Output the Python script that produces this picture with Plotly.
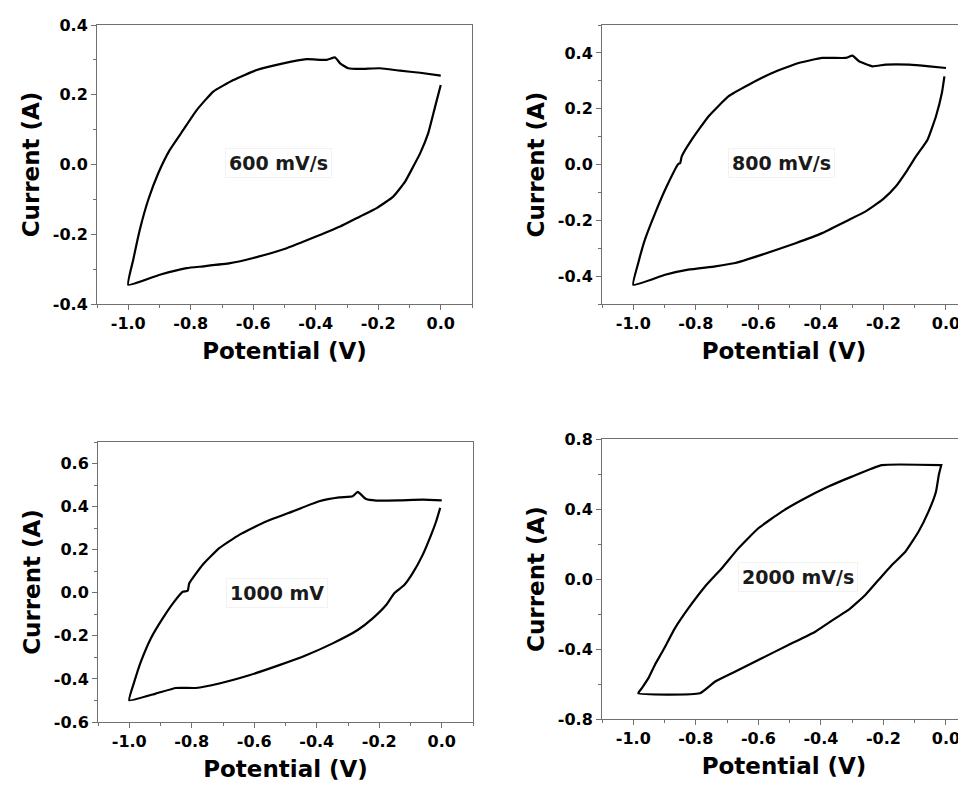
import plotly.graph_objects as go

# ---------------- data ----------------
# Panel 1: 600 mV/s  (cathodic branch from 0 V to -1 V, then anodic branch back)
x_600 = [0.0, -0.018, -0.04, -0.066, -0.088, -0.114, -0.152, -0.205, -0.258, -0.322, -0.397, -0.493,
         -0.600, -0.674, -0.760, -0.813, -0.899, -1.0,
         -0.984, -0.963, -0.936, -0.904, -0.867, -0.824, -0.781, -0.728, -0.664, -0.589, -0.504,
         -0.429, -0.365, -0.338, -0.322, -0.296, -0.258, -0.194, -0.130, -0.066, 0.0]
y_600 = [0.228, 0.166, 0.09, 0.032, -0.006, -0.049, -0.092, -0.125, -0.149, -0.178, -0.206, -0.240,
         -0.268, -0.283, -0.292, -0.297, -0.316, -0.345,
         -0.273, -0.187, -0.101, -0.025, 0.042, 0.099, 0.156, 0.209, 0.242, 0.271, 0.290,
         0.302, 0.300, 0.307, 0.290, 0.276, 0.274, 0.276, 0.269, 0.263, 0.255]

# Panel 2: 800 mV/s
x_800 = [-0.005, -0.013, -0.032, -0.059, -0.096, -0.123, -0.160, -0.203, -0.257, -0.321, -0.396, -0.481,
         -0.588, -0.674, -0.738, -0.824, -0.898, -1.0,
         -0.984, -0.963, -0.930, -0.893, -0.856, -0.850, -0.845, -0.813, -0.759, -0.695, -0.631, -0.556,
         -0.471, -0.396, -0.321, -0.299, -0.278, -0.235, -0.193, -0.118, -0.053, 0.0]
y_800 = [0.316, 0.257, 0.173, 0.089, 0.029, -0.019, -0.078, -0.126, -0.168, -0.204, -0.246, -0.282,
         -0.323, -0.353, -0.365, -0.377, -0.395, -0.431,
         -0.353, -0.270, -0.174, -0.078, 0.002, 0.005, 0.029, 0.089, 0.173, 0.245, 0.286, 0.328,
         0.364, 0.382, 0.382, 0.390, 0.370, 0.352, 0.358, 0.358, 0.352, 0.346]

# Panel 3: 1000 mV
x_1000 = [-0.005, -0.018, -0.034, -0.061, -0.093, -0.120, -0.152, -0.178, -0.221, -0.269, -0.349, -0.434,
          -0.520, -0.616, -0.712, -0.787, -0.851, -0.915, -1.0,
          -0.984, -0.963, -0.931, -0.893, -0.856, -0.829, -0.813, -0.808, -0.765, -0.712, -0.648,
          -0.562, -0.477, -0.392, -0.328, -0.285, -0.269, -0.242, -0.210, -0.136, -0.061, 0.0]
y_1000 = [0.394, 0.331, 0.269, 0.176, 0.091, 0.036, -0.002, -0.057, -0.119, -0.173, -0.235, -0.290,
          -0.336, -0.383, -0.421, -0.442, -0.442, -0.468, -0.499,
          -0.414, -0.321, -0.212, -0.119, -0.041, 0.005, 0.009, 0.044, 0.130, 0.207, 0.269,
          0.331, 0.378, 0.425, 0.443, 0.448, 0.468, 0.435, 0.428, 0.429, 0.432, 0.429]

# Panel 4: 2000 mV/s (clipped at +/-0.65 A)
x_2000 = [-0.015, -0.023, -0.032, -0.056, -0.088, -0.130, -0.173, -0.216, -0.258, -0.312, -0.354,
          -0.418, -0.504, -0.589, -0.675, -0.739, -0.787, -0.984,
          -0.973, -0.952, -0.931, -0.904, -0.867, -0.824, -0.771, -0.717, -0.664, -0.600, -0.525,
          -0.461, -0.376, -0.301, -0.205, -0.015]
y_2000 = [0.651, 0.594, 0.499, 0.385, 0.270, 0.156, 0.080, -0.006, -0.091, -0.177, -0.225,
          -0.301, -0.377, -0.453, -0.530, -0.587, -0.653, -0.653,
          -0.625, -0.568, -0.491, -0.406, -0.282, -0.168, -0.044, 0.061, 0.175, 0.290, 0.385,
          0.451, 0.528, 0.585, 0.651, 0.651]

labels = ["600 mV/s", "800 mV/s", "1000 mV", "2000 mV/s"]
label_x = [-0.52, -0.525, -0.528, -0.472]
label_y = [0.005, 0.005, -0.003, 0.013]

x_tickvals = [-1.0, -0.8, -0.6, -0.4, -0.2, 0.0]
x_ticktext = ["-1.0", "-0.8", "-0.6", "-0.4", "-0.2", "0.0"]
x_minor = [-1.1, -0.9, -0.7, -0.5, -0.3, -0.1, 0.1]

y1_tickvals = [-0.4, -0.2, 0.0, 0.2, 0.4]
y1_ticktext = ["-0.4", "-0.2", "0.0", "0.2", "0.4"]
y1_minor = [-0.3, -0.1, 0.1, 0.3]

y2_tickvals = [-0.4, -0.2, 0.0, 0.2, 0.4]
y2_ticktext = ["-0.4", "-0.2", "0.0", "0.2", "0.4"]
y2_minor = [-0.5, -0.3, -0.1, 0.1, 0.3, 0.5]

y3_tickvals = [-0.6, -0.4, -0.2, 0.0, 0.2, 0.4, 0.6]
y3_ticktext = ["-0.6", "-0.4", "-0.2", "0.0", "0.2", "0.4", "0.6"]
y3_minor = [-0.5, -0.3, -0.1, 0.1, 0.3, 0.5, 0.7]

y4_tickvals = [-0.8, -0.4, 0.0, 0.4, 0.8]
y4_ticktext = ["-0.8", "-0.4", "0.0", "0.4", "0.8"]
y4_minor = [-0.6, -0.2, 0.2, 0.6]

# ---------------- figure ----------------
OFF = 8                      # default page body margin
W, H = 966 - OFF, 785 - OFF
fig = go.Figure()

series = [(x_600, y_600), (x_800, y_800), (x_1000, y_1000), (x_2000 + [x_2000[0]], y_2000 + [y_2000[0]])]
axes_ids = [("x", "y"), ("x2", "y2"), ("x3", "y3"), ("x4", "y4")]
for (xs, ys), (xa, ya) in zip(series, axes_ids):
    fig.add_trace(go.Scatter(x=xs, y=ys, mode="lines", xaxis=xa, yaxis=ya,
                             line=dict(color="black", width=2.2, shape="spline", smoothing=0.4),
                             showlegend=False, hoverinfo="skip"))

AX = "#707070"
tick_font = dict(family="DejaVu Sans", size=16, color="black", weight="bold")
title_font = dict(family="DejaVu Sans", size=23, color="black", weight="bold")


def px_x(a, b):
    return [(a - OFF) / W, min(1.0, (b - OFF) / W)]


def px_y(top, bottom):
    return [1 - (bottom - OFF) / H, 1 - (top - OFF) / H]


def xaxis(domain, rng, anchor):
    return dict(domain=domain, range=rng, anchor=anchor, automargin=False,
                showline=True, linecolor=AX, linewidth=1, mirror=True,
                showgrid=False, zeroline=False,
                ticks="outside", ticklen=5, tickwidth=1, tickcolor=AX,
                tickmode="array", tickvals=x_tickvals, ticktext=x_ticktext,
                minor=dict(tickmode="array", tickvals=x_minor, ticks="outside", ticklen=3, tickcolor=AX),
                tickfont=tick_font,
                title=dict(text="Potential (V)", font=title_font, standoff=10))


def yaxis(domain, rng, anchor, tv, tt, mv, mirror):
    return dict(domain=domain, range=rng, anchor=anchor, automargin=False,
                showline=True, linecolor=AX, linewidth=1, mirror=mirror,
                showgrid=False, zeroline=False,
                ticks="outside", ticklen=5, tickwidth=1, tickcolor=AX,
                tickmode="array", tickvals=tv, ticktext=tt,
                minor=dict(tickmode="array", tickvals=mv, ticks="outside", ticklen=3, tickcolor=AX),
                tickfont=tick_font,
                title=dict(text="Current (A)", font=title_font, standoff=6))


fig.update_layout(
    width=W, height=H,
    margin=dict(l=0, r=0, t=0, b=0, autoexpand=False),
    paper_bgcolor="white", plot_bgcolor="white",
    xaxis=xaxis(px_x(97, 472), [-1.1, 0.1], "y"),
    yaxis=yaxis(px_y(25, 304), [-0.4, 0.4], "x", y1_tickvals, y1_ticktext, y1_minor, True),
    xaxis2=xaxis(px_x(602, 966), [-1.1, 0.064], "y2"),
    yaxis2=yaxis(px_y(25, 304), [-0.5, 0.5], "x2", y2_tickvals, y2_ticktext, y2_minor, False),
    xaxis3=xaxis(px_x(98, 473), [-1.1, 0.1], "y3"),
    yaxis3=yaxis(px_y(442, 722), [-0.6, 0.7], "x3", y3_tickvals, y3_ticktext, y3_minor, True),
    xaxis4=xaxis(px_x(602, 966), [-1.1, 0.064], "y4"),
    yaxis4=yaxis(px_y(439, 719), [-0.8, 0.8], "x4", y4_tickvals, y4_ticktext, y4_minor, False),
)

for i, (xa, ya) in enumerate(axes_ids):
    fig.add_annotation(x=label_x[i], y=label_y[i], xref=xa, yref=ya, text=labels[i],
                       showarrow=False, bgcolor="white", bordercolor="#f2f2f2", borderwidth=1,
                       borderpad=3,
                       font=dict(family="DejaVu Sans", size=19, color="#1a1a1a", weight="bold"))

fig.write_html("out.html")
